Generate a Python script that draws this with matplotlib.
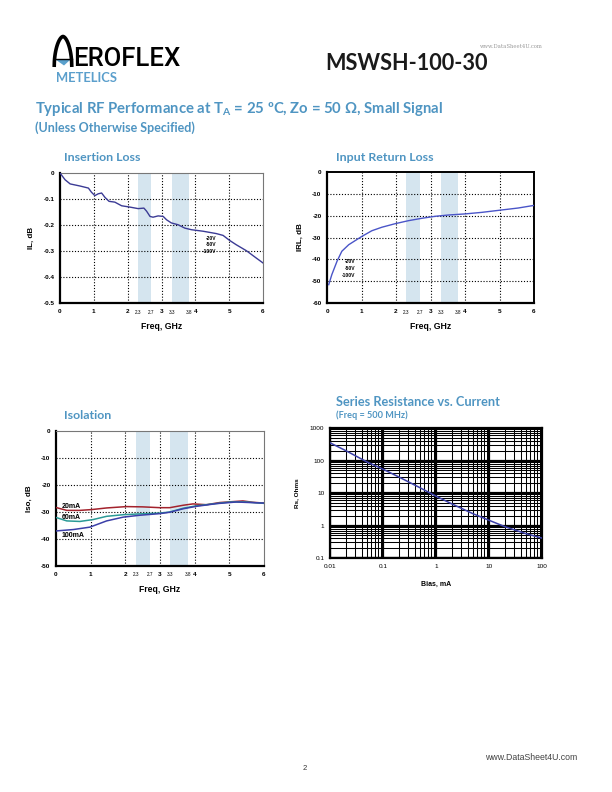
import matplotlib
matplotlib.use("Agg")
import matplotlib.pyplot as plt
import numpy as np
from matplotlib.patches import Polygon

# ---------------- data ----------------
il_freq = [0.0, 0.15, 0.3, 0.59, 0.84, 0.93, 1.03, 1.13, 1.23, 1.33, 1.45, 1.62, 1.82, 2.06,
           2.31, 2.48, 2.56, 2.66, 2.75, 2.9, 3.05, 3.15, 3.29, 3.49, 3.69, 3.88, 4.23, 4.62,
           4.82, 5.01, 5.21, 5.51, 5.8, 6.0]
il_db = [0.0, -0.026, -0.042, -0.05, -0.058, -0.074, -0.087, -0.08, -0.077, -0.094, -0.109,
         -0.112, -0.126, -0.131, -0.137, -0.135, -0.147, -0.167, -0.17, -0.165, -0.167, -0.18,
         -0.192, -0.199, -0.212, -0.218, -0.224, -0.233, -0.24, -0.259, -0.276, -0.299, -0.327,
         -0.346]

rl_freq = [0.05, 0.14, 0.29, 0.43, 0.63, 0.82, 1.01, 1.3, 1.59, 1.97, 2.36, 2.75, 3.13, 3.52,
           4.0, 4.48, 5.06, 5.54, 6.0]
rl_db = [-51.6, -47.0, -40.9, -36.3, -33.3, -31.4, -29.5, -26.9, -25.3, -23.7, -22.3, -21.2,
         -20.3, -19.7, -19.2, -18.5, -17.4, -16.5, -15.3]

iso20_freq = [0.02, 0.31, 0.69, 1.03, 1.46, 2.03, 2.5, 3.0, 3.28, 3.67, 3.95, 4.34, 4.72, 5.39, 5.68, 6.0]
iso20_db = [-28.4, -29.4, -29.4, -29.1, -28.5, -28.0, -28.1, -28.4, -28.4, -27.5, -27.0, -27.3,
            -26.5, -25.9, -26.4, -26.7]
iso60_freq = [0.02, 0.31, 0.69, 1.07, 1.46, 1.94, 2.42, 3.0, 3.28, 3.67, 4.05, 4.53, 5.01, 5.49, 6.0]
iso60_db = [-32.1, -33.3, -33.5, -32.8, -31.6, -31.0, -30.7, -30.4, -30.0, -28.6, -27.7, -27.0,
            -26.3, -26.3, -26.8]
iso100_freq = [0.02, 0.5, 0.98, 1.46, 1.94, 2.42, 3.0, 3.28, 3.67, 4.05, 4.63, 5.2, 6.0]
iso100_db = [-37.0, -36.5, -35.6, -33.3, -31.9, -31.2, -30.6, -30.1, -28.8, -27.9, -26.9, -26.3, -26.7]

bias_ma = [0.01, 0.02, 0.05, 0.1, 0.2, 0.5, 1, 2, 5, 10, 20, 50, 100]
rs_ohms = [350, 200, 90, 54, 31, 14.5, 8, 4.6, 2.3, 1.45, 0.92, 0.56, 0.41]

bands = [(2.3, 2.7), (3.3, 3.8)]
band_ticks = [2.3, 2.7, 3.3, 3.8]
freq_ticks = [0, 1, 2, 3, 4, 5, 6]
il_ticks = [0, -0.1, -0.2, -0.3, -0.4, -0.5]
il_ticklabels = ["0", "-0.1", "-0.2", "-0.3", "-0.4", "-0.5"]
rl_ticks = [0, -10, -20, -30, -40, -50, -60]
iso_ticks = [0, -10, -20, -30, -40, -50]
volt_labels = ["-20V", "-50V", "-100V"]
iso_labels = ["20mA", "60mA", "100mA"]
rs_xticks = [0.01, 0.1, 1, 10, 100]
rs_xticklabels = ["0.01", "0.1", "1", "10", "100"]
rs_yticks = [0.1, 1, 10, 100, 1000]
rs_yticklabels = ["0.1", "1", "10", "100", "1000"]

# ---------------- style ----------------
W, H = 612, 792
BLUE_T = "#4f95c2"
BAND = "#d5e5ef"
TICKFONT = "Liberation Sans"
TITLEFONT = "Lato"

fig = plt.figure(figsize=(W / 100, H / 100), dpi=100)
fig.patch.set_facecolor("white")


def ax_px(l, t, r, b, **kw):
    return fig.add_axes([l / W, 1 - b / H, (r - l) / W, (b - t) / H], **kw)


# overlay for page decorations
ov = ax_px(0, 0, W, H)
ov.set_xlim(0, W)
ov.set_ylim(H, 0)
ov.axis("off")
ov.set_zorder(-1)

# Logo arch "A" (pointed arch)
u = np.linspace(-1, 1, 101)
arch_x = 63 + 8.8 * u
arch_y = 67 - 30.5 * (1 - np.abs(u) ** 1.7) ** 0.5
ov.plot(arch_x, arch_y, color="black", lw=2.6, solid_capstyle="butt", solid_joinstyle="miter")
ov.plot([54.5, 71.5], [59, 59], color="black", lw=1.0)
ov.add_patch(Polygon([[55.5, 59.5], [70.5, 59.5], [64, 65.5]], closed=True,
                     color="#5aa0cc", lw=0))
ov.text(73, 66.5, "EROFLEX", fontsize=18.5, family="Roboto", fontweight="medium",
        color="black", ha="left", va="baseline")
ov.text(56, 82, "METELICS", fontsize=9.4, family=TITLEFONT, fontweight="bold",
        color="#5b9fcc", ha="left", va="baseline")
ov.text(325, 70, "MSWSH-100-30", fontsize=15.6, family=TITLEFONT, fontweight="bold",
        color="#1a1a1a", ha="left", va="baseline")
ov.text(511, 46, "www.DataSheet4U.com", fontsize=3.8, family="DejaVu Serif", color="#999999",
        ha="center", va="center")

ov.text(35, 113, r"Typical RF Performance at T$_{\mathregular{A}}$ = 25 ºC, Zo = 50 Ω, Small Signal",
        fontsize=10.7, family=TITLEFONT, fontweight="bold", color=BLUE_T, ha="left", va="baseline")
ov.text(35, 132, "(Unless Otherwise Specified)", fontsize=9.0, family=TITLEFONT,
        fontweight="bold", color=BLUE_T, ha="left", va="baseline")

ov.text(64, 161, "Insertion Loss", fontsize=8.9, family=TITLEFONT, fontweight="bold",
        color=BLUE_T, ha="left", va="baseline")
ov.text(336, 161, "Input Return Loss", fontsize=8.9, family=TITLEFONT, fontweight="bold",
        color=BLUE_T, ha="left", va="baseline")
ov.text(64, 419, "Isolation", fontsize=8.9, family=TITLEFONT, fontweight="bold",
        color=BLUE_T, ha="left", va="baseline")
ov.text(336, 406, "Series Resistance vs. Current", fontsize=9.2, family=TITLEFONT,
        fontweight="bold", color=BLUE_T, ha="left", va="baseline")
ov.text(336, 418, "(Freq = 500 MHz)", fontsize=6.6, family=TITLEFONT, fontweight="bold",
        color=BLUE_T, ha="left", va="baseline")

ov.text(305, 768, "2", fontsize=5.5, family=TICKFONT, color="#333333", ha="center", va="center")
ov.text(531, 758, "www.DataSheet4U.com", fontsize=6.3, family=TICKFONT, color="#444444",
        ha="center", va="center")


def freq_axes(ax, yticks, ylabels, ylim, ylabel, band_label_y):
    for a, b in bands:
        ax.axvspan(a, b, color=BAND, lw=0, zorder=0)
    ax.set_xlim(0, 6)
    ax.set_ylim(*ylim)
    ax.set_xticks(freq_ticks)
    ax.set_xticklabels([str(v) for v in freq_ticks])
    ax.set_yticks(yticks)
    ax.set_yticklabels(ylabels)
    ax.tick_params(length=0, pad=4, labelsize=4.6)
    for lab in ax.get_xticklabels() + ax.get_yticklabels():
        lab.set_family(TICKFONT)
        lab.set_fontweight("bold")
    for x in [1, 2, 3, 4, 5]:
        ax.axvline(x, color="black", lw=0.8, ls=(0, (1, 1.6)), zorder=1)
    for y in yticks[1:-1]:
        ax.axhline(y, color="black", lw=0.8, ls=(0, (1, 1.6)), zorder=1)
    for x in band_ticks:
        ax.text(x, band_label_y, f"{x:g}", transform=ax.get_xaxis_transform(),
                fontsize=3.3, family=TICKFONT, ha="center", va="center")
    ax.spines["left"].set_linewidth(1.6)
    ax.spines["bottom"].set_linewidth(1.6)
    ax.spines["top"].set_linewidth(0.8)
    ax.spines["right"].set_linewidth(0.8)
    ax.spines["top"].set_color("#777777")
    ax.spines["right"].set_color("#777777")
    ax.set_xlabel("Freq, GHz", fontsize=6.2, family=TICKFONT, fontweight="bold", labelpad=6)
    ax.set_ylabel(ylabel, fontsize=5.8, family=TICKFONT, fontweight="bold", labelpad=6)


# ---------- Insertion loss ----------
ax1 = ax_px(60, 173, 263, 303)
freq_axes(ax1, il_ticks, il_ticklabels, (-0.5, 0), "IL, dB", -0.07)
ax1.plot(il_freq, il_db, color="#3b3b95", lw=1.0, zorder=3)
for i, (lab, y) in enumerate(zip(volt_labels, [-0.25, -0.276, -0.302])):
    ax1.text(4.62, y, lab, fontsize=3.6, family=TICKFONT, fontweight="bold", ha="right",
             va="center", zorder=4)

# ---------- Return loss ----------
ax2 = ax_px(327, 172, 534, 303)
freq_axes(ax2, rl_ticks, [str(v) for v in rl_ticks], (-60, 0), "IRL, dB", -0.07)
for s in ["top", "right"]:
    ax2.spines[s].set_color("black")
    ax2.spines[s].set_linewidth(1.4)
ax2.plot(rl_freq, rl_db, color="#4a55c8", lw=1.0, zorder=3)
for lab, y in zip(volt_labels, [-41.2, -44.4, -47.3]):
    ax2.text(0.82, y, lab, fontsize=3.6, family=TICKFONT, fontweight="bold", ha="right",
             va="center", zorder=4)

# ---------- Isolation ----------
ax3 = ax_px(56, 431, 264, 566)
freq_axes(ax3, iso_ticks, [str(v) for v in iso_ticks], (-50, 0), "Iso, dB", -0.065)
ax3.plot(iso20_freq, iso20_db, color="#a3222c", lw=1.1, zorder=3)
ax3.plot(iso60_freq, iso60_db, color="#2a9a96", lw=1.1, zorder=3)
ax3.plot(iso100_freq, iso100_db, color="#3b3fa8", lw=1.1, zorder=3)
for lab, y in zip(iso_labels, [-27.8, -31.9, -38.6]):
    ax3.text(0.17, y, lab, fontsize=5.0, family=TICKFONT, fontweight="bold", ha="left",
             va="center", zorder=4)

# ---------- Series resistance ----------
ax4 = ax_px(330, 428, 542, 558)
ax4.set_xscale("log")
ax4.set_yscale("log")
ax4.set_xlim(0.01, 100)
ax4.set_ylim(0.1, 1000)
ax4.set_xticks(rs_xticks)
ax4.set_xticklabels(rs_xticklabels)
ax4.set_yticks(rs_yticks)
ax4.set_yticklabels(rs_yticklabels)
ax4.minorticks_on()
ax4.tick_params(which="both", length=0, pad=4, labelsize=4.6)
ax4.tick_params(which="minor", labelbottom=False, labelleft=False)
for lab in ax4.get_xticklabels() + ax4.get_yticklabels():
    lab.set_family(TICKFONT)
ax4.grid(True, which="major", color="black", lw=1.6)
ax4.grid(True, which="minor", color="black", lw=0.75)
ax4.set_axisbelow(True)
for s in ax4.spines.values():
    s.set_linewidth(1.6)
ax4.plot(bias_ma, rs_ohms, color="#3b3fa8", lw=1.1, zorder=3)
ax4.set_xlabel("Bias, mA", fontsize=5.0, family=TICKFONT, fontweight="bold", labelpad=9)
ax4.set_ylabel("Rs, Ohms", fontsize=4.6, family=TICKFONT, fontweight="bold", labelpad=8)

fig.savefig("out.png", dpi=100)
